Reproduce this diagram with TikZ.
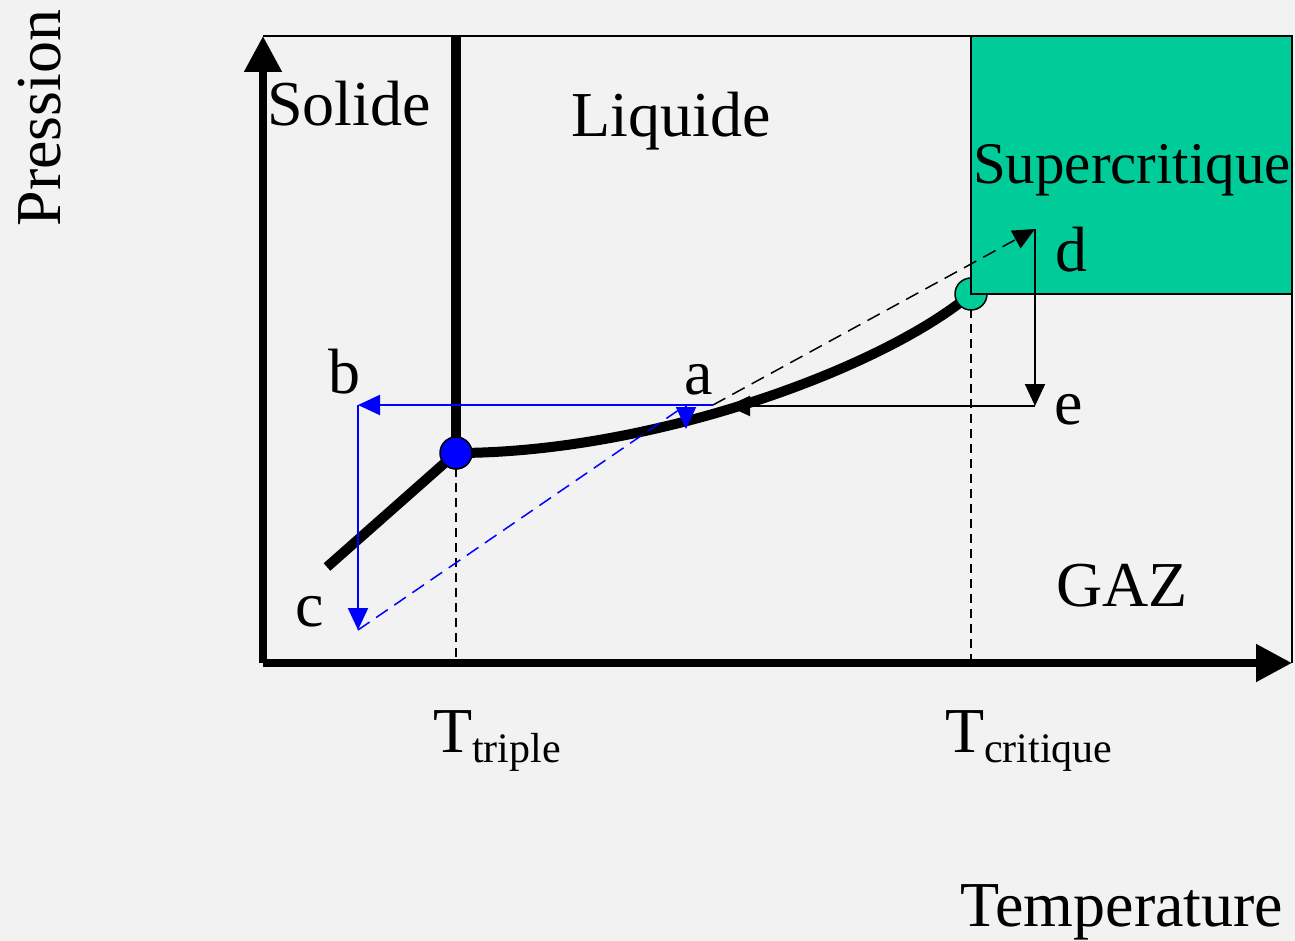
\documentclass[tikz,border=0pt]{standalone}
\usepackage{fontspec}
\setmainfont{Liberation Serif}
\usepackage{tikz}
\usetikzlibrary{arrows.meta}
\usetikzlibrary{positioning}
\pgfdeclarelayer{background}
\pgfdeclarelayer{edgelayer}
\pgfdeclarelayer{nodelayer}
\pgfsetlayers{background,edgelayer,nodelayer,main}
\definecolor{bggrey}{RGB}{242,242,242}
\definecolor{scgreen}{RGB}{0,204,153}
\tikzstyle{none}=[inner sep=0mm]
\tikzstyle{lbl}=[inner sep=0mm,font=\fontsize{64}{70}\selectfont]
\tikzstyle{axis}=[line width=8pt,-{Triangle[length=36pt,width=36pt]}]
\tikzstyle{phase}=[line width=10pt]
\tikzstyle{guide}=[line width=1.5pt,dash pattern=on 9pt off 6pt]
\tikzstyle{path arrow}=[line width=2pt,-{Triangle[length=22pt,width=20pt]}]
\tikzstyle{point}=[shape=circle,draw=black,line width=1.5pt,minimum size=32pt,inner sep=0pt]

\begin{document}
\begin{tikzpicture}[x=1pt,y=-1pt]
	\useasboundingbox (0,0) rectangle (1295,941);
	\begin{pgfonlayer}{nodelayer}
		\node [style=none] (o) at (263, 663) {};
		\node [style=none] (ytop) at (263, 36) {};
		\node [style=none] (xend) at (1292, 663) {};
		\node [style=none] (tl) at (263, 36) {};
		\node [style=none] (tr) at (1292, 36) {};
		\node [style=none] (sltop) at (456, 36) {};
		\node [style=none] (sg) at (327, 567) {};
		\node [style=point,fill=blue] (tp) at (456, 453) {};
		\node [style=none] (cp) at (971, 294) {};
		\node [style=none] (tpfoot) at (456, 663) {};
		\node [style=none] (cpfoot) at (971, 663) {};
		\node [style=none] (pa) at (713, 405) {};
		\node [style=none] (pb) at (358, 405) {};
		\node [style=none] (pc) at (358, 630) {};
		\node [style=none] (pd) at (1035, 229) {};
		\node [style=none] (pe) at (1035, 406) {};
		\node [style=none] (ae) at (728, 406) {};
		\node [style=none] (ab) at (686, 405) {};
		\node [style=none] (aa) at (686, 429) {};
		\node [style=lbl] (solide) at (349, 104) {Solide};
		\node [style=lbl] (liquide) at (671, 121) {Liquide};
		\node [style=lbl,font=\fontsize{59}{64}\selectfont] (superc) at (1132, 170) {Supercritique};
		\node [style=lbl] (gaz) at (1122, 586) {GAZ};
		\node [style=lbl] (la) at (699, 380) {a};
		\node [style=lbl] (lb) at (344, 372) {b};
		\node [style=lbl] (lc) at (310, 612) {c};
		\node [style=lbl] (ld) at (1071, 250) {d};
		\node [style=lbl] (le) at (1069, 410) {e};
		\node [style=lbl,anchor=base west] (ttr) at (433, 752) {T{\fontsize{42}{46}\selectfont\raisebox{-10pt}{triple}}};
		\node [style=lbl,anchor=base west] (tcr) at (945, 752) {T{\fontsize{42}{46}\selectfont\raisebox{-10pt}{critique}}};
		\node [style=lbl,rotate=90] (pres) at (40, 118) {Pression};
		\node [style=lbl] (temp) at (1122, 912) {Temperature};
	\end{pgfonlayer}
	\begin{pgfonlayer}{background}
		\fill[bggrey] (0,0) rectangle (1295,941);
		\draw[line width=2pt] (tl.center) to (tr.center) to (xend.center);
		\draw[guide] (tp.center) to (tpfoot.center);
		\draw[guide] (cp.center) to (cpfoot.center);
	\end{pgfonlayer}
	\begin{pgfonlayer}{edgelayer}
		\draw[axis] (o.center) to (ytop.center);
		\draw[axis] (o.center) to (xend.center);
		\draw[phase] (tp.center) to (sltop.center);
		\draw[phase] (sg.center) to (tp.center);
		\draw[phase] (tp.center) .. controls (650, 453) and (880, 370) .. (cp.center);
		% critical point, half under the supercritical region
		\filldraw[fill=scgreen,draw=black,line width=1.5pt] (cp.center) circle (16pt);
		\filldraw[fill=scgreen,draw=black,line width=2pt] (cp.center) rectangle (tr.center);
		% blue path a -> b -> c -> a
		\draw[path arrow,blue] (pa.center) to (pb.center);
		\draw[path arrow,blue] (pb.center) to (pc.center);
		\draw[guide,blue,dash pattern=on 14pt off 8pt] (pc.center) to (ab.center);
		\draw[path arrow,blue] (ab.center) to (aa.center);
		% black path a -> d -> e -> a
		\draw[guide,dash pattern=on 14pt off 8pt,-{Triangle[length=22pt,width=20pt]}] (pa.center) to (pd.center);
		\draw[path arrow] (pd.center) to (pe.center);
		\draw[path arrow] (pe.center) to (ae.center);
	\end{pgfonlayer}
\end{tikzpicture}
\end{document}
